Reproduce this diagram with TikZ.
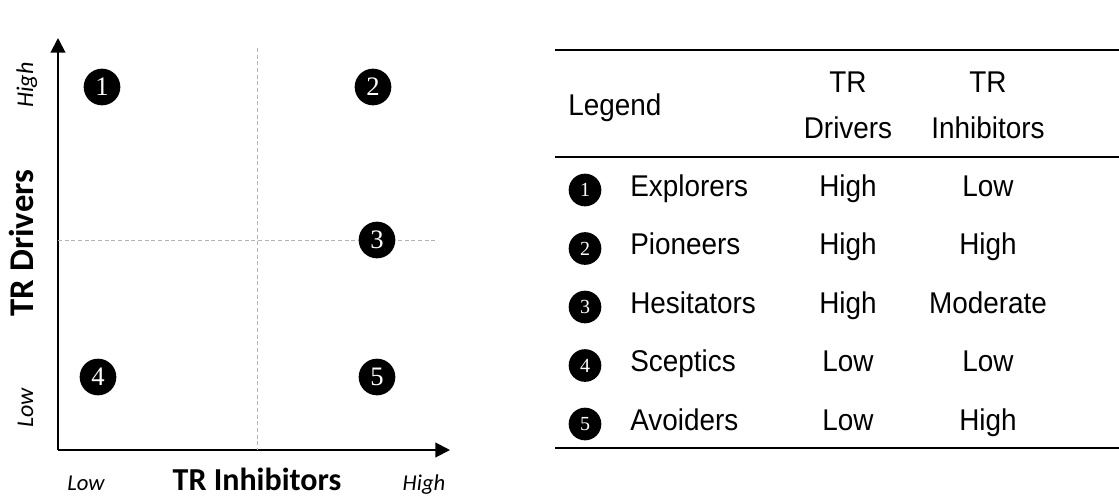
\documentclass[tikz,border=0pt]{standalone}
\usepackage{fontspec}
\setmainfont[FakeStretch=0.93]{Liberation Sans}
\newfontfamily\chartfont{Carlito}
\newfontfamily\numfont{Liberation Serif}
\usetikzlibrary{arrows.meta,shapes.geometric}

\tikzset{
  quadrant/.style={circle,fill=black,text=white,inner sep=0pt,minimum size=27.5pt,
    font=\numfont\fontsize{20}{20}\selectfont},
  axislabel/.style={font=\chartfont\bfseries\fontsize{24}{24}\selectfont,anchor=base,inner sep=0pt},
  levellabel/.style={font=\chartfont\itshape\fontsize{17}{17}\selectfont,anchor=base,inner sep=0pt},
  guide/.style={gray!60,thin,dash pattern=on 3pt off 2pt},
  bullet/.style={circle,fill=black,text=white,inner sep=0pt,minimum size=24.5pt,
    font=\numfont\fontsize{15}{15}\selectfont},
  cell/.style={font=\fontsize{22.5}{27}\selectfont,inner sep=0pt,anchor=base},
  rule/.style={line width=1.6pt}
}

\begin{document}
\begin{tikzpicture}[x=0.75pt,y=-0.75pt]
\useasboundingbox (0,0) rectangle (1119,497);

% axes of the matrix
\coordinate (origin) at (58,450);
\coordinate (ytip) at (58,38);
\coordinate (xtip) at (450,450);
\draw[line width=1.5pt,-{Triangle[length=11pt,width=11pt]}] (origin) -- (ytip);
\draw[line width=1.5pt,-{Triangle[length=11pt,width=11pt]}] (origin) -- (xtip);

% dashed quadrant split
\coordinate (vtop) at (257,48);
\coordinate (vbot) at (257,450);
\coordinate (hleft) at (58,240);
\coordinate (hright) at (438,240);
\draw[guide] (vtop) -- (vbot);
\draw[guide] (hleft) -- (hright);

% axis titles and levels
\node[axislabel,rotate=90,font=\chartfont\bfseries\fontsize{26}{26}\selectfont] (ytitle) at (33,243) {TR Drivers};
\node[axislabel] (xtitle) at (257,490) {TR Inhibitors};
\node[levellabel,rotate=90,font=\chartfont\itshape\fontsize{18}{18}\selectfont] (yhigh) at (33,85) {High};
\node[levellabel,rotate=90,font=\chartfont\itshape\fontsize{18}{18}\selectfont] (ylow) at (33,408) {Low};
\node[levellabel] (xlow) at (86,490) {Low};
\node[levellabel] (xhigh) at (424,490) {High};

% segments
\node[quadrant] (c1) at (102,87) {1};
\node[quadrant] (c2) at (373,87) {2};
\node[quadrant] (c3) at (377,240) {3};
\node[quadrant] (c4) at (98,377) {4};
\node[quadrant] (c5) at (377,377) {5};

% legend table
\draw[rule] (555,50) -- (1119,50);
\draw[rule] (555,157) -- (1119,157);
\draw[rule] (555,448) -- (1119,448);
\node[cell,anchor=base west] (legend) at (568,115) {Legend};
\node[cell] (drivers1) at (848,92) {TR};
\node[cell] (drivers2) at (848,138) {Drivers};
\node[cell] (inhibitors1) at (988,92) {TR};
\node[cell] (inhibitors2) at (988,138) {Inhibitors};

\foreach \n/\name/\drv/\inh in {1/Explorers/High/Low,2/Pioneers/High/High,
    3/Hesitators/High/Moderate,4/Sceptics/Low/Low,5/Avoiders/Low/High}{
  \pgfmathsetmacro{\ROWY}{196+58.5*(\n-1)}
  \node[bullet] (b\n) at (585,\ROWY-6) {\n};
  \node[cell,anchor=base west] (n\n) at (630,\ROWY) {\name};
  \node[cell] (d\n) at (848,\ROWY) {\drv};
  \node[cell] (h\n) at (988,\ROWY) {\inh};
}

\end{tikzpicture}
\end{document}
